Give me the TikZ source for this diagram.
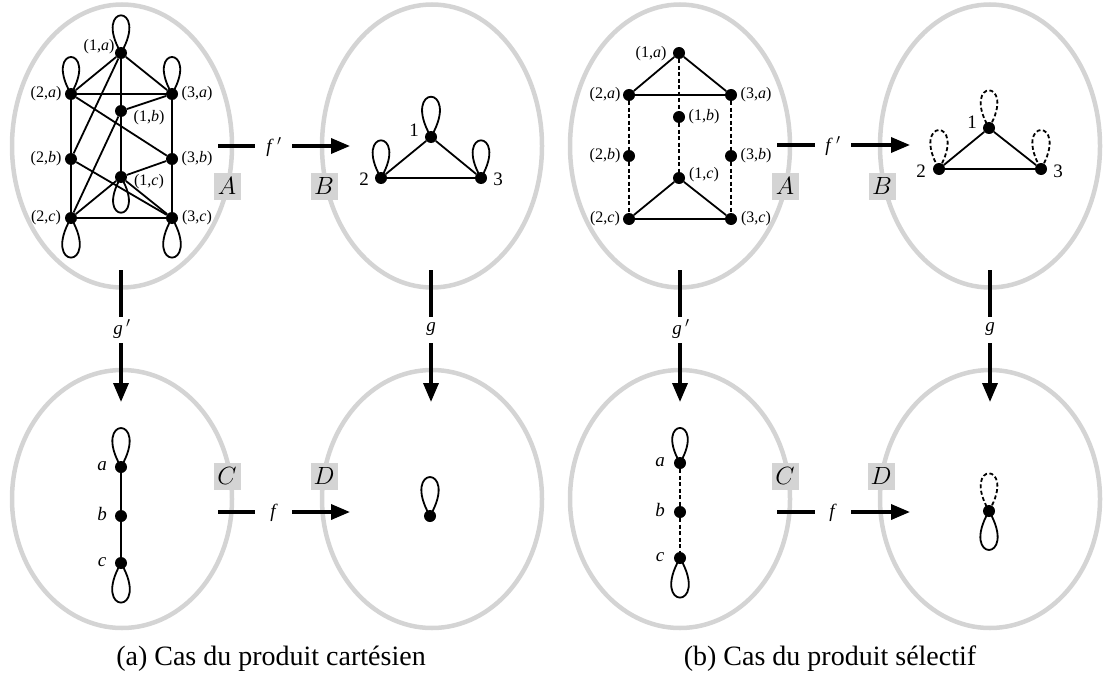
\documentclass[tikz,border=0pt]{standalone}
\usepackage{fontspec}
\setmainfont{Liberation Serif}
\usetikzlibrary{arrows.meta,shapes.geometric}
\definecolor{lightg}{RGB}{212,212,212}
\newcommand\myloopup[3]{\draw[#3] (#1.center) .. controls +(-60:#2) and +(-120:#2) .. (#1.center);}
\newcommand\myloopdown[3]{\draw[#3] (#1.center) .. controls +(60:#2) and +(120:#2) .. (#1.center);}
\begin{document}
\begin{tikzpicture}[x=1pt,y=-1pt,
  ell/.style={draw=lightg, line width=4.5pt, ellipse, inner sep=0pt},
  dot/.style={circle, fill=black, inner sep=0pt, minimum size=12pt},
  ln/.style={line width=1.8pt},
  dsh/.style={line width=1.8pt, dash pattern=on 4pt off 2.5pt},
  bigarrow/.style={line width=3.5pt, -{Triangle[length=19pt,width=15pt]}},
  seg/.style={line width=3.5pt},
  lbox/.style={fill=lightg, inner sep=0pt, minimum width=27pt, minimum height=27pt, font=\fontsize{26}{26}\selectfont},
  vlab/.style={font=\fontsize{16}{16}\selectfont, inner sep=0pt},
  nlab/.style={font=\fontsize{19}{19}\selectfont, inner sep=0pt},
  mlab/.style={font=\fontsize{19}{19}\selectfont, inner sep=0pt},
  captxt/.style={font=\fontsize{28}{28}\selectfont, inner sep=0pt}]
\useasboundingbox (0,0) rectangle (1105,682);

% ellipses
\node[ell, minimum width=220pt, minimum height=283pt] (EAa) at (122,146) {};
\node[ell, minimum width=220pt, minimum height=283pt] (EBa) at (432,146) {};
\node[ell, minimum width=220pt, minimum height=258pt] (ECa) at (122,499) {};
\node[ell, minimum width=220pt, minimum height=258pt] (EDa) at (432,499) {};
\node[ell, minimum width=220pt, minimum height=283pt] (EAb) at (680,146) {};
\node[ell, minimum width=220pt, minimum height=283pt] (EBb) at (990,146) {};
\node[ell, minimum width=220pt, minimum height=258pt] (ECb) at (680,499) {};
\node[ell, minimum width=220pt, minimum height=258pt] (EDb) at (990,499) {};

% ===== (a) A =====
\node[dot] (A1a) at (121,53) {};
\node[dot] (A2a) at (71,94) {};
\node[dot] (A3a) at (172,94) {};
\node[dot] (A1b) at (121,111) {};
\node[dot] (A2b) at (71,159) {};
\node[dot] (A3b) at (172,159) {};
\node[dot] (A1c) at (121,177) {};
\node[dot] (A2c) at (71,218) {};
\node[dot] (A3c) at (172,218) {};
\draw[ln] (A1a) -- (A2a);
\draw[ln] (A1a) -- (A3a);
\draw[ln] (A2a) -- (A3a);
\draw[ln] (A1c) -- (A2c);
\draw[ln] (A1c) -- (A3c);
\draw[ln] (A2c) -- (A3c);
\draw[ln] (A1a) -- (A1b);
\draw[ln] (A1b) -- (A1c);
\draw[ln] (A2a) -- (A2b);
\draw[ln] (A2b) -- (A2c);
\draw[ln] (A3a) -- (A3b);
\draw[ln] (A3b) -- (A3c);
\draw[ln] (A1a) -- (A2b);
\draw[ln] (A1b) -- (A2c);
\draw[ln] (A3a) -- (A1b);
\draw[ln] (A2a) -- (A3b);
\draw[ln] (A3b) -- (A1c);
\draw[ln] (A2b) -- (A3c);
\myloopup{A1a}{58}{ln}
\myloopup{A2a}{57}{ln}
\myloopup{A3a}{57}{ln}
\myloopdown{A1c}{55}{ln}
\myloopdown{A2c}{61}{ln}
\myloopdown{A3c}{61}{ln}
\node[vlab] (LA1a) at (99,47) {(1,\textit{a})};
\node[vlab] (LA2a) at (46,94) {(2,\textit{a})};
\node[vlab] (LA3a) at (197,94) {(3,\textit{a})};
\node[vlab] (LA1b) at (149,118) {(1,\textit{b})};
\node[vlab] (LA2b) at (46,159) {(2,\textit{b})};
\node[vlab] (LA3b) at (197,159) {(3,\textit{b})};
\node[vlab] (LA1c) at (149,182) {(1,\textit{c})};
\node[vlab] (LA2c) at (46,218) {(2,\textit{c})};
\node[vlab] (LA3c) at (197,218) {(3,\textit{c})};

% ===== (a) B =====
\node[dot] (B1) at (431,137) {};
\node[dot] (B2) at (381,178) {};
\node[dot] (B3) at (481,178) {};
\draw[ln] (B1) -- (B2);
\draw[ln] (B1) -- (B3);
\draw[ln] (B2) -- (B3);
\myloopup{B1}{62}{ln}
\myloopup{B2}{58}{ln}
\myloopup{B3}{58}{ln}
\node[nlab] (LB1) at (414,130) {1};
\node[nlab] (LB2) at (364,179) {2};
\node[nlab] (LB3) at (498,179) {3};

% ===== (a) C =====
\node[dot] (Ca) at (121,467) {};
\node[dot] (Cb) at (121,516) {};
\node[dot] (Cc) at (121,563) {};
\draw[ln] (Ca) -- (Cb);
\draw[ln] (Cb) -- (Cc);
\myloopup{Ca}{60}{ln}
\myloopdown{Cc}{61}{ln}
\node[mlab] (LCa) at (102,466) {\textit{a}};
\node[mlab] (LCb) at (102,514) {\textit{b}};
\node[mlab] (LCc) at (102,562) {\textit{c}};

% ===== (a) D =====
\node[dot] (D1) at (430,516) {};
\myloopup{D1}{60}{ln}

% ===== (b) A =====
\node[dot] (S1a) at (679,53) {};
\node[dot] (S2a) at (629,95) {};
\node[dot] (S3a) at (731,95) {};
\node[dot] (S1b) at (679,117) {};
\node[dot] (S2b) at (629,156) {};
\node[dot] (S3b) at (731,156) {};
\node[dot] (S1c) at (679,178) {};
\node[dot] (S2c) at (629,219) {};
\node[dot] (S3c) at (731,219) {};
\draw[ln] (S1a) -- (S2a);
\draw[ln] (S1a) -- (S3a);
\draw[ln] (S2a) -- (S3a);
\draw[ln] (S1c) -- (S2c);
\draw[ln] (S1c) -- (S3c);
\draw[ln] (S2c) -- (S3c);
\draw[dsh] (S1a) -- (S1b);
\draw[dsh] (S1b) -- (S1c);
\draw[dsh] (S2a) -- (S2b);
\draw[dsh] (S2b) -- (S2c);
\draw[dsh] (S3a) -- (S3b);
\draw[dsh] (S3b) -- (S3c);
\node[vlab] (LS1a) at (651,54) {(1,\textit{a})};
\node[vlab] (LS2a) at (605,95) {(2,\textit{a})};
\node[vlab] (LS3a) at (756,95) {(3,\textit{a})};
\node[vlab] (LS1b) at (704,117) {(1,\textit{b})};
\node[vlab] (LS2b) at (605,156) {(2,\textit{b})};
\node[vlab] (LS3b) at (756,156) {(3,\textit{b})};
\node[vlab] (LS1c) at (704,175) {(1,\textit{c})};
\node[vlab] (LS2c) at (605,219) {(2,\textit{c})};
\node[vlab] (LS3c) at (756,219) {(3,\textit{c})};

% ===== (b) B =====
\node[dot] (T1) at (989,128) {};
\node[dot] (T2) at (939,169) {};
\node[dot] (T3) at (1041,169) {};
\draw[ln] (T1) -- (T2);
\draw[ln] (T1) -- (T3);
\draw[ln] (T2) -- (T3);
\myloopup{T1}{58}{dsh}
\myloopup{T2}{60}{dsh}
\myloopup{T3}{60}{dsh}
\node[nlab] (LT1) at (972,122) {1};
\node[nlab] (LT2) at (921,171) {2};
\node[nlab] (LT3) at (1058,171) {3};

% ===== (b) C =====
\node[dot] (Ua) at (680,463) {};
\node[dot] (Ub) at (680,512) {};
\node[dot] (Uc) at (680,558) {};
\draw[dsh] (Ua) -- (Ub);
\draw[dsh] (Ub) -- (Uc);
\myloopup{Ua}{54}{ln}
\myloopdown{Uc}{61}{ln}
\node[mlab] (LUa) at (660,462) {\textit{a}};
\node[mlab] (LUb) at (660,510) {\textit{b}};
\node[mlab] (LUc) at (660,557) {\textit{c}};

% ===== (b) D =====
\node[dot] (V1) at (989,511) {};
\myloopup{V1}{58}{dsh}
\myloopdown{V1}{60}{ln}

% ===== arrows (a) =====
\coordinate (fpa0) at (218,146); \coordinate (fpa1) at (255,146);
\coordinate (fpa2) at (292,146); \coordinate (fpa3) at (350,146);
\node[mlab] (fpal) at (274,147) {\textit{f}\,$'$};
\draw[seg] (fpa0) -- (fpa1);
\draw[bigarrow] (fpa2) -- (fpa3);

\coordinate (fa0) at (218,512); \coordinate (fa1) at (255,512);
\coordinate (fa2) at (292,512); \coordinate (fa3) at (350,512);
\node[mlab] (fal) at (274,513) {\textit{f}};
\draw[seg] (fa0) -- (fa1);
\draw[bigarrow] (fa2) -- (fa3);

\coordinate (gpa0) at (121,270); \coordinate (gpa1) at (121,317);
\coordinate (gpa2) at (121,343); \coordinate (gpa3) at (121,402);
\node[mlab] (gpal) at (122,329) {\textit{g}\,$'$};
\draw[seg] (gpa0) -- (gpa1);
\draw[bigarrow] (gpa2) -- (gpa3);

\coordinate (ga0) at (431,270); \coordinate (ga1) at (431,317);
\coordinate (ga2) at (431,343); \coordinate (ga3) at (431,402);
\node[mlab] (gal) at (431,329) {\textit{g}};
\draw[seg] (ga0) -- (ga1);
\draw[bigarrow] (ga2) -- (ga3);

% ===== arrows (b) =====
\coordinate (fpb0) at (777,145); \coordinate (fpb1) at (815,145);
\coordinate (fpb2) at (851,145); \coordinate (fpb3) at (910,145);
\node[mlab] (fpbl) at (833,146) {\textit{f}\,$'$};
\draw[seg] (fpb0) -- (fpb1);
\draw[bigarrow] (fpb2) -- (fpb3);

\coordinate (fb0) at (777,512); \coordinate (fb1) at (815,512);
\coordinate (fb2) at (851,512); \coordinate (fb3) at (910,512);
\node[mlab] (fbl) at (833,513) {\textit{f}};
\draw[seg] (fb0) -- (fb1);
\draw[bigarrow] (fb2) -- (fb3);

\coordinate (gpb0) at (680,270); \coordinate (gpb1) at (680,317);
\coordinate (gpb2) at (680,343); \coordinate (gpb3) at (680,402);
\node[mlab] (gpbl) at (681,329) {\textit{g}\,$'$};
\draw[seg] (gpb0) -- (gpb1);
\draw[bigarrow] (gpb2) -- (gpb3);

\coordinate (gb0) at (990,270); \coordinate (gb1) at (990,317);
\coordinate (gb2) at (990,343); \coordinate (gb3) at (990,402);
\node[mlab] (gbl) at (990,329) {\textit{g}};
\draw[seg] (gb0) -- (gb1);
\draw[bigarrow] (gb2) -- (gb3);

% ===== set labels =====
\node[lbox] (bA1) at (227,186) {$A$};
\node[lbox] (bB1) at (324,186) {$B$};
\node[lbox] (bC1) at (227,476) {$C$};
\node[lbox] (bD1) at (324,476) {$D$};
\node[lbox] (bA2) at (785,186) {$A$};
\node[lbox] (bB2) at (882,186) {$B$};
\node[lbox] (bC2) at (785,476) {$C$};
\node[lbox] (bD2) at (881,476) {$D$};

% ===== captions =====
\node[captxt] (capa) at (271,659) {(a) Cas du produit cartésien};
\node[captxt] (capb) at (830,659) {(b) Cas du produit sélectif};
\end{tikzpicture}
\end{document}
